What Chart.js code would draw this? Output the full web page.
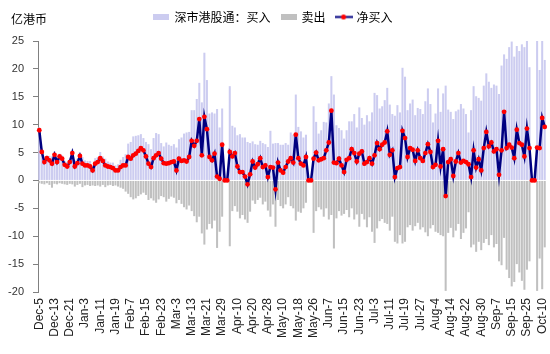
<!DOCTYPE html>
<html><head><meta charset="utf-8">
<script src="https://cdn.jsdelivr.net/npm/chart.js@4"></script>
<style>html,body{margin:0;padding:0;background:#fff;}</style>
</head><body>
<canvas id="c" width="550" height="354"></canvas>
<script>
const tickLabels = ['Dec-5','Dec-13','Dec-21','Jan-3','Jan-11','Jan-19','Feb-7','Feb-15','Feb-23','Mar-3','Mar-13','Mar-21','Mar-29','Apr-10','Apr-20','Apr-28','May-10','May-18','May-26','Jun-7','Jun-15','Jun-23','Jul-3','Jul-11','Jul-19','Jul-27','Aug-4','Aug-14','Aug-22','Aug-30','Sep-7','Sep-15','Sep-25','Oct-10'];
const tickEvery = 6;

const netBuy = [
9.0,5.1,3.3,4.0,3.6,3.0,4.6,3.3,4.3,3.9,
2.8,2.5,3.3,4.9,2.5,3.1,4.4,3.0,2.7,2.7,
2.5,1.8,3.0,3.3,4.0,3.5,2.7,2.5,2.4,2.2,
1.8,1.8,2.4,2.7,2.7,4.2,3.9,4.5,4.8,5.3,
5.8,5.4,4.3,3.0,2.4,4.0,4.5,4.9,3.9,3.1,
3.0,3.1,3.3,3.4,1.8,3.9,3.5,3.6,3.4,4.2,
7.1,6.2,7.1,11.0,4.5,11.4,9.2,4.2,3.6,4.8,
0.7,0.3,6.4,0,0,5.1,4.3,4.9,2.5,1.5,
1.5,0.7,-0.7,1.1,3.4,2.3,2.9,4.0,2.4,2.7,
0.6,2.4,2.3,-1.6,3.2,1.8,1.4,2.4,3.4,4.0,
3.2,8.2,4.0,3.0,2.7,4.2,0,0,3.9,5.0,
3.6,3.8,4.0,5.4,6.8,12.5,3.2,3.1,3.9,2.7,
1.5,3.7,4.0,5.6,4.9,3.4,4.8,5.2,3.0,3.3,
4.0,3.0,4.5,6.7,5.6,6.4,6.8,8.8,4.6,5.4,
0.6,2.2,2.4,8.9,7.6,4.2,5.8,5.5,3.5,5.4,
4.0,3.5,4.9,6.5,5.1,2.4,2.8,7.1,2.5,5.6,
-2.8,3.3,3.8,0.8,3.4,4.9,3.2,3.5,3.3,2.9,
0.6,5.4,2.3,3.8,1.8,5.8,8.7,6.1,6.8,5.2,
5.6,1.0,5.4,12.3,5.8,6.4,5.9,4.0,9.1,6.7,
6.4,4.3,9.3,5.8,0,0,5.9,5.8,11.2,9.6];

const sell = [
-0.5,-0.6,-0.7,-0.5,-0.8,-1.3,-0.6,-0.7,-0.5,-0.6,
-0.7,-0.8,-0.6,-0.7,-1.1,-0.8,-0.6,-1.2,-0.9,-0.8,
-1.0,-0.9,-1.0,-0.9,-1.1,-0.8,-1.2,-0.9,-0.8,-1.0,
-0.9,-1.1,-1.3,-1.5,-2.0,-2.4,-3.0,-3.4,-3.2,-2.8,
-2.5,-2.2,-2.6,-3.5,-3.2,-3.6,-4.0,-3.4,-2.8,-3.0,
-3.8,-3.3,-2.9,-3.1,-4.1,-3.5,-4.2,-4.8,-5.2,-4.5,
-5.5,-6.4,-7.5,-6.5,-9.5,-11.5,-8.8,-7.8,-8.6,-7.2,
-12.1,-9.2,-6.5,0,0,-11.8,-5.5,-4.6,-5.6,-6.8,
-6.2,-7.0,-7.6,-5.6,-3.6,-4.2,-3.5,-3.1,-4.3,-3.8,
-5.4,-6.5,-4.3,-8.3,-3.5,-4.6,-5.0,-4.3,-3.0,-4.6,
-5.0,-7.2,-5.6,-5.8,-5.0,-4.0,0,0,-9.4,-5.5,
-4.8,-5.2,-6.5,-5.0,-7.0,-6.2,-12.2,-6.8,-5.5,-6.3,
-6.0,-5.3,-6.6,-5.0,-7.0,-6.1,-8.3,-6.0,-7.0,-8.4,
-6.6,-9.2,-11.2,-8.6,-7.3,-6.9,-7.6,-7.8,-9.0,-6.5,
-11.0,-11.3,-9.8,-11.3,-11.0,-8.4,-8.0,-9.0,-8.2,-7.6,
-8.8,-8.4,-9.3,-10.0,-8.6,-8.0,-9.2,-9.4,-9.8,-10.0,
-19.8,-9.4,-8.5,-10.2,-9.0,-7.8,-10.5,-9.4,-8.6,-5.7,
-12.0,-11.5,-12.8,-11.0,-12.5,-11.2,-10.5,-11.6,-9.8,-12.0,
-11.4,-14.5,-15.2,-10.3,-16.0,-17.5,-19.0,-18.2,-15.0,-16.5,
-18.0,-19.6,-16.0,-14.5,0,0,-19.8,-14.0,-19.5,-12.0];

const buy = [
9.5,5.7,4.0,4.5,4.4,4.3,5.2,4.0,4.8,4.5,
3.5,3.3,3.9,5.6,3.6,3.9,5.0,4.2,3.6,3.5,
3.5,2.7,4.0,4.2,5.1,4.3,3.9,3.4,3.2,3.2,
2.7,2.9,3.7,4.2,4.7,6.6,6.9,7.9,8.0,8.1,
8.3,7.6,6.9,6.5,5.6,7.6,8.5,8.3,6.7,6.1,
6.8,6.4,6.2,6.5,5.9,7.4,7.7,8.4,8.6,8.7,
12.6,12.6,14.6,17.5,14.0,22.9,18.0,12.0,12.2,12.0,
12.8,9.5,12.9,0,0,16.9,9.8,9.5,8.1,8.3,
7.7,7.7,6.9,6.7,7.0,6.5,6.4,7.1,6.7,6.5,
6.0,8.9,6.6,6.7,6.7,6.4,6.4,6.7,6.4,8.6,
8.2,15.4,9.6,8.8,7.7,8.2,0,0,13.3,10.5,
8.4,9.0,10.5,10.4,13.8,18.7,15.4,9.9,9.4,9.0,
7.5,9.0,10.6,10.6,11.9,9.5,13.1,11.2,10.0,11.7,
10.6,12.2,15.7,15.3,12.9,13.3,14.4,16.6,13.6,11.9,
11.6,13.5,12.2,20.2,18.6,12.6,13.8,14.5,11.7,13.0,
12.8,11.9,14.2,16.5,13.7,10.4,12.0,16.5,12.3,15.6,
17.0,12.7,12.3,11.0,12.4,12.7,13.7,12.9,11.9,8.6,
12.6,16.9,15.1,14.8,14.3,17.0,19.2,17.7,16.6,17.2,
17.0,15.5,20.6,22.6,21.8,23.9,24.9,22.2,24.1,23.2,
24.4,23.9,25.3,20.3,0,0,25.7,19.8,30.7,21.6];

const BUY_COLOR = '#ccccf0';
const SELL_COLOR = '#c0c0c0';
const LINE_COLOR = '#000080';
const DOT_COLOR = '#ff0000';

const categories = netBuy.map((_, i) => (i % tickEvery === 0 && tickLabels[i / tickEvery]) ? tickLabels[i / tickEvery] : '');

function makeImg(w, h, draw) {
  const c = document.createElement('canvas');
  c.width = w; c.height = h;
  draw(c.getContext('2d'));
  return c;
}
const buyImg = makeImg(16, 6, g => { g.fillStyle = BUY_COLOR; g.fillRect(0, 0, 16, 6); });
const sellImg = makeImg(16, 6, g => { g.fillStyle = SELL_COLOR; g.fillRect(0, 0, 16, 6); });
const lineImg = makeImg(18, 7, g => {
  g.strokeStyle = LINE_COLOR; g.lineWidth = 2; g.beginPath(); g.moveTo(0, 3.5); g.lineTo(18, 3.5); g.stroke();
  g.fillStyle = DOT_COLOR; g.beginPath(); g.arc(9, 3.5, 2.5, 0, Math.PI * 2); g.fill();
});

const unitPlugin = {
  id: 'unit',
  beforeLayout(chart) {
    const lg = chart.legend;
    if (lg && !lg._extraFit) {
      const orig = lg.fit;
      lg.fit = function () { orig.call(this); this.height += 8; };
      lg._extraFit = true;
    }
  },
  afterDraw(chart) {
    const g = chart.ctx;
    g.save();
    g.font = '12px "Noto Sans CJK SC"';
    g.fillStyle = '#000';
    g.textBaseline = 'middle';
    g.textAlign = 'left';
    g.fillText('亿港币', 11, 19);
    g.restore();
  }
};

new Chart(document.getElementById('c'), {
  type: 'bar',
  data: {
    labels: categories,
    datasets: [
      { type: 'line', label: '净买入', data: netBuy, borderColor: LINE_COLOR, borderWidth: 2.5,
        pointRadius: 2.4, pointBackgroundColor: DOT_COLOR, pointBorderColor: DOT_COLOR, pointBorderWidth: 0,
        tension: 0, order: 0 },
      { label: '深市港股通：买入', data: buy, backgroundColor: BUY_COLOR, order: 2, grouped: false,
        barPercentage: 0.8, categoryPercentage: 1 },
      { label: '卖出', data: sell, backgroundColor: SELL_COLOR, order: 1, grouped: false,
        barPercentage: 0.8, categoryPercentage: 1 }
    ]
  },
  options: {
    responsive: false,
    animation: false,
    layout: { padding: { left: 0, right: 3, top: 0, bottom: 0 } },
    plugins: {
      tooltip: { enabled: false },
      legend: {
        position: 'top', align: 'center',
        labels: {
          usePointStyle: true, pointStyleWidth: 14, boxHeight: 8, padding: 11,
          font: { family: '"Noto Sans CJK SC"', size: 12 }, color: '#000',
          generateLabels: () => [
            { text: '深市港股通：买入', pointStyle: buyImg, datasetIndex: 1, fillStyle: BUY_COLOR, strokeStyle: BUY_COLOR, lineWidth: 0, hidden: false },
            { text: '卖出', pointStyle: sellImg, datasetIndex: 2, fillStyle: SELL_COLOR, strokeStyle: SELL_COLOR, lineWidth: 0, hidden: false },
            { text: '净买入', pointStyle: lineImg, datasetIndex: 0, fillStyle: DOT_COLOR, strokeStyle: LINE_COLOR, lineWidth: 0, hidden: false }
          ]
        }
      }
    },
    scales: {
      x: {
        grid: { display: false, drawTicks: false },
        border: { display: false },
        ticks: {
          autoSkip: false, maxRotation: 90, minRotation: 90, padding: 6,
          font: { family: '"Liberation Sans", Arial', size: 12 }, color: '#222',
          callback: (v, i) => categories[i]
        },
        afterFit: s => { s.height = 62; s.paddingLeft = 0; s.paddingRight = 0; }
      },
      y: {
        min: -20, max: 25,
        ticks: { stepSize: 5, padding: 9, font: { family: '"Liberation Sans", Arial', size: 11 }, color: '#333' },
        grid: { drawOnChartArea: false, drawTicks: true, tickLength: 5, color: '#808080' },
        border: { display: true, color: '#808080', width: 1 },
        afterFit: s => { s.width = 38; }
      }
    }
  },
  plugins: [unitPlugin]
});
</script>
</body></html>
